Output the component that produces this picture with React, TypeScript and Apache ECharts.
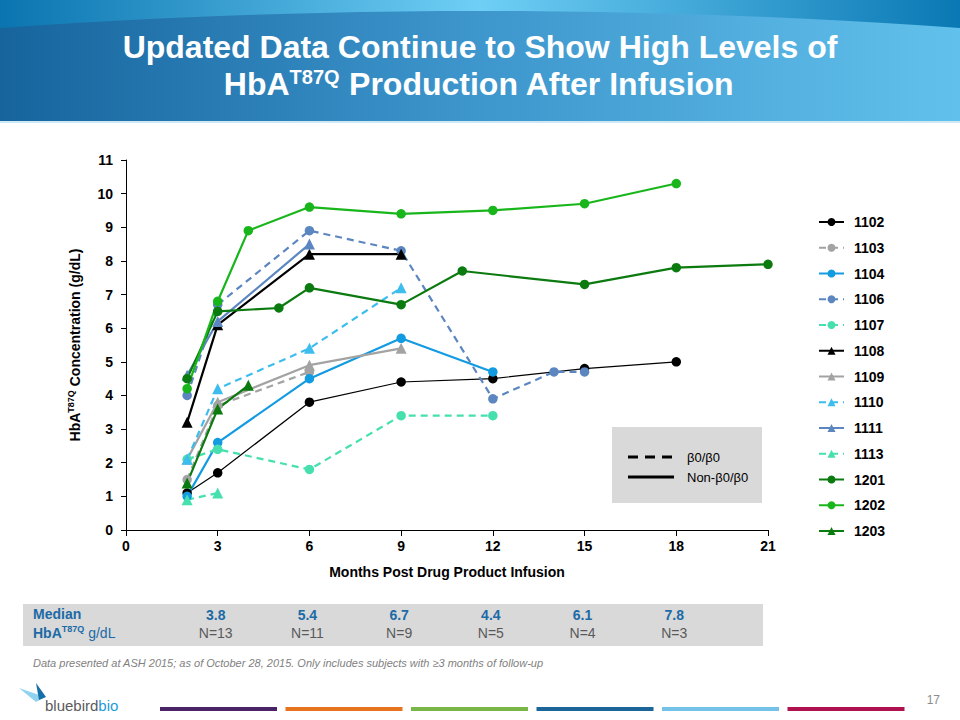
import React, { useEffect, useRef } from "react";
import * as echarts from "echarts";

// ---------- data ----------
const patientIds = ["1102", "1103", "1104", "1106", "1107", "1108", "1109", "1110", "1111", "1113", "1201", "1202", "1203"];

const p1102 = [[2, 1.1], [3, 1.7], [6, 3.8], [9, 4.4], [12, 4.5], [15, 4.8], [18, 5.0]];
const p1103 = [[2, 1.5], [3, 3.7], [6, 4.7]];
const p1104 = [[2, 1.0], [3, 2.6], [6, 4.5], [9, 5.7], [12, 4.7]];
const p1106 = [[2, 4.0], [3, 6.7], [6, 8.9], [9, 8.3], [12, 3.9], [14, 4.7], [15, 4.7]];
const p1107 = [[2, 2.1], [3, 2.4], [6, 1.8], [9, 3.4], [12, 3.4]];
const p1108 = [[2, 3.2], [3, 6.1], [6, 8.2], [9, 8.2]];
const p1109 = [[2, 2.1], [3, 3.8], [6, 4.9], [9, 5.4]];
const p1110 = [[2, 2.1], [3, 4.2], [6, 5.4], [9, 7.2]];
const p1111 = [[2, 4.6], [3, 6.2], [6, 8.5]];
const p1113 = [[2, 0.9], [3, 1.1]];
const p1201 = [[2, 4.5], [3, 6.5], [5, 6.6], [6, 7.2], [9, 6.7], [11, 7.7], [15, 7.3], [18, 7.8], [21, 7.9]];
const p1202 = [[2, 4.2], [3, 6.8], [4, 8.9], [6, 9.6], [9, 9.4], [12, 9.5], [15, 9.7], [18, 10.3]];
const p1203 = [[2, 1.4], [3, 3.6], [4, 4.3]];

const patientData = [p1102, p1103, p1104, p1106, p1107, p1108, p1109, p1110, p1111, p1113, p1201, p1202, p1203];

const medianMonths = [3, 6, 9, 12, 15, 18];
const medianValues = ["3.8", "5.4", "6.7", "4.4", "6.1", "7.8"];
const medianN = ["N=13", "N=11", "N=9", "N=5", "N=4", "N=3"];

// ---------- styles ----------
const BLACK = "#000000";
const GRAY = "#a3a3a3";
const BLUE = "#129be0";
const STEEL = "#5b86c0";
const AQUA = "#45e0ae";
const LBLUE = "#3cbdee";
const DGREEN = "#0b7a0f";
const GREEN = "#19b61b";

const seriesStyle = [
  { color: BLACK, symbol: "circle", dashed: false, width: 1.2 },
  { color: GRAY, symbol: "circle", dashed: true, width: 2.2 },
  { color: BLUE, symbol: "circle", dashed: false, width: 2.2 },
  { color: STEEL, symbol: "circle", dashed: true, width: 2.2 },
  { color: AQUA, symbol: "circle", dashed: true, width: 2.2 },
  { color: BLACK, symbol: "triangle", dashed: false, width: 2.2 },
  { color: GRAY, symbol: "triangle", dashed: false, width: 2.2 },
  { color: LBLUE, symbol: "triangle", dashed: true, width: 2.2 },
  { color: STEEL, symbol: "triangle", dashed: false, width: 2.2 },
  { color: AQUA, symbol: "triangle", dashed: true, width: 2.2 },
  { color: DGREEN, symbol: "circle", dashed: false, width: 2.2 },
  { color: GREEN, symbol: "circle", dashed: false, width: 2.2 },
  { color: DGREEN, symbol: "triangle", dashed: false, width: 2.2 },
];

const GL = 126;
const GR = 768;
const GT = 160;
const GB = 530;
const XMAX = 21;
const FONT = "Liberation Sans, Arial, sans-serif";
const TBLUE = "#1c6aa6";

function monthToPx(m: number) {
  return GL + (m * (GR - GL)) / XMAX;
}

function buildOption() {
  const series = patientIds.map((id, i) => {
    const st = seriesStyle[i];
    return {
      name: id,
      type: "line",
      data: patientData[i],
      symbol: st.symbol,
      symbolSize: st.symbol === "circle" ? 9.5 : 11,
      showSymbol: true,
      itemStyle: { color: st.color },
      lineStyle: { color: st.color, width: st.width, type: st.dashed ? [7, 5] : "solid" },
      emphasis: { disabled: true },
      z: 3,
    };
  });

  // header curve points (decoration)
  const curve: number[][] = [];
  for (let x = 0; x <= 960; x += 40) {
    const t = (x - 480) / 480;
    curve.push([x, 11 + 17 * t * t]);
  }
  const headerPoly = [...curve, [960, 121], [0, 121]];

  const graphics: any[] = [
    {
      type: "rect",
      shape: { x: 0, y: 0, width: 960, height: 121 },
      style: {
        fill: new echarts.graphic.LinearGradient(0, 0, 1, 0, [
          { offset: 0, color: "#0a74b0" },
          { offset: 0.5, color: "#6fcff5" },
          { offset: 1, color: "#0a78b4" },
        ]),
      },
      silent: true,
    },
    {
      type: "polygon",
      shape: { points: headerPoly },
      style: {
        fill: new echarts.graphic.LinearGradient(0, 0, 1, 0, [
          { offset: 0, color: "#17649d" },
          { offset: 0.45, color: "#3a92c9" },
          { offset: 1, color: "#62c1ec" },
        ]),
      },
      silent: true,
    },
    {
      type: "rect",
      shape: { x: 0, y: 121, width: 960, height: 2 },
      style: { fill: "#cde9f6" },
      silent: true,
    },
    {
      type: "text",
      x: 480,
      y: 47,
      style: {
        text: "Updated Data Continue to Show High Levels of",
        fill: "#ffffff",
        font: `bold 32px ${FONT}`,
        align: "center",
        verticalAlign: "middle",
      },
      silent: true,
    },
    {
      type: "text",
      x: 479,
      y: 84,
      style: {
        text: "HbA{sup|T87Q} Production After Infusion",
        fill: "#ffffff",
        font: `bold 32px ${FONT}`,
        align: "center",
        verticalAlign: "middle",
        rich: {
          sup: { fill: "#ffffff", fontSize: 20, fontWeight: "bold", fontFamily: FONT, padding: [0, 0, 14, 0] },
        },
      },
      silent: true,
    },
    // beta legend box
    {
      type: "rect",
      shape: { x: 612, y: 427, width: 150, height: 76 },
      style: { fill: "#d9d9d9" },
      silent: true,
    },
    {
      type: "line",
      shape: { x1: 628, y1: 457, x2: 674, y2: 457 },
      style: { stroke: "#000", lineWidth: 3, lineDash: [10, 7] },
      silent: true,
    },
    {
      type: "line",
      shape: { x1: 628, y1: 477, x2: 674, y2: 477 },
      style: { stroke: "#000", lineWidth: 3 },
      silent: true,
    },
    {
      type: "text",
      x: 687,
      y: 457,
      style: { text: "β0/β0", fill: "#000", font: `13px ${FONT}`, verticalAlign: "middle" },
      silent: true,
    },
    {
      type: "text",
      x: 687,
      y: 477,
      style: { text: "Non-β0/β0", fill: "#000", font: `13px ${FONT}`, verticalAlign: "middle" },
      silent: true,
    },
    // median table
    {
      type: "rect",
      shape: { x: 23, y: 604, width: 740, height: 42 },
      style: { fill: "#d9d9d9" },
      silent: true,
    },
    {
      type: "text",
      x: 33,
      y: 614,
      style: { text: "Median", fill: TBLUE, font: `bold 14px ${FONT}`, verticalAlign: "middle" },
      silent: true,
    },
    {
      type: "text",
      x: 33,
      y: 633,
      style: {
        text: "HbA{sup|T87Q}{reg| g/dL}",
        fill: TBLUE,
        font: `bold 14px ${FONT}`,
        verticalAlign: "middle",
        rich: {
          sup: { fill: TBLUE, fontSize: 9, fontWeight: "bold", fontFamily: FONT, padding: [0, 0, 8, 0] },
          reg: { fill: TBLUE, fontSize: 14, fontWeight: "normal", fontFamily: FONT },
        },
      },
      silent: true,
    },
    // footnote
    {
      type: "text",
      x: 33,
      y: 663,
      style: {
        text: "Data presented at ASH 2015; as of October 28, 2015. Only includes subjects with ≥3 months of follow-up",
        fill: "#7f7f7f",
        font: `italic 11px ${FONT}`,
        verticalAlign: "middle",
      },
      silent: true,
    },
    // logo
    {
      type: "polygon",
      shape: { points: [[19, 688], [45, 697], [36, 702]] },
      style: { fill: "#8fd3f0" },
      silent: true,
    },
    {
      type: "polygon",
      shape: { points: [[36, 683], [46, 697], [39, 700]] },
      style: { fill: "#1670a8" },
      silent: true,
    },
    {
      type: "text",
      x: 45,
      y: 705,
      style: {
        text: "bluebird{b|bio}",
        fill: "#5b5b5b",
        font: `15px ${FONT}`,
        verticalAlign: "middle",
        rich: { b: { fill: "#1c9bd7", fontSize: 15, fontFamily: FONT } },
      },
      silent: true,
    },
    {
      type: "text",
      x: 940,
      y: 700,
      style: { text: "17", fill: "#8c8c8c", font: `12px ${FONT}`, align: "right", verticalAlign: "middle" },
      silent: true,
    },
  ];

  const barColors = ["#4b2468", "#e8731e", "#7ab547", "#1b6598", "#74c2e8", "#b0124f"];
  barColors.forEach((c, i) => {
    graphics.push({
      type: "rect",
      shape: { x: 160 + i * 125.5, y: 707, width: 117, height: 4 },
      style: { fill: c },
      silent: true,
    });
  });

  medianMonths.forEach((m, i) => {
    const x = monthToPx(m) - 2;
    graphics.push({
      type: "text",
      x,
      y: 615,
      style: { text: medianValues[i], fill: TBLUE, font: `bold 14px ${FONT}`, align: "center", verticalAlign: "middle" },
      silent: true,
    });
    graphics.push({
      type: "text",
      x,
      y: 633,
      style: { text: medianN[i], fill: "#595959", font: `14px ${FONT}`, align: "center", verticalAlign: "middle" },
      silent: true,
    });
  });

  return {
    animation: false,
    backgroundColor: "#ffffff",
    grid: { left: GL, right: 960 - GR, top: GT, bottom: 720 - GB, containLabel: false },
    xAxis: {
      type: "value",
      min: 0,
      max: XMAX,
      interval: 3,
      name: "Months Post Drug Product Infusion",
      nameLocation: "middle",
      nameGap: 35,
      nameTextStyle: { color: "#000", fontSize: 14, fontWeight: "bold", fontFamily: FONT },
      axisLine: { show: true, onZero: false, lineStyle: { color: "#000", width: 1 } },
      axisTick: { show: true, inside: false, length: 6, lineStyle: { color: "#000" } },
      axisLabel: { color: "#000", fontSize: 14, fontWeight: "bold", fontFamily: FONT, margin: 9 },
      splitLine: { show: false },
    },
    yAxis: {
      type: "value",
      min: 0,
      max: 11,
      interval: 1,
      name: "HbA{sup|T87Q} Concentration (g/dL)",
      nameLocation: "middle",
      nameGap: 43,
      nameTextStyle: {
        color: "#000",
        fontSize: 14,
        fontWeight: "bold",
        fontFamily: FONT,
        rich: {
          sup: { color: "#000", fontSize: 9, fontWeight: "bold", fontFamily: FONT, padding: [0, 0, 8, 0] },
        },
      },
      axisLine: { show: true, lineStyle: { color: "#000", width: 1 } },
      axisTick: { show: true, inside: false, length: 5, lineStyle: { color: "#000" } },
      axisLabel: { color: "#000", fontSize: 14, fontWeight: "bold", fontFamily: FONT, margin: 13 },
      splitLine: { show: false },
    },
    legend: {
      show: true,
      orient: "vertical",
      left: 813,
      top: 210,
      itemWidth: 25,
      itemHeight: 10,
      itemGap: 11.75,
      selectedMode: false,
      data: patientIds,
      textStyle: { color: "#000", fontSize: 14, fontWeight: "bold", fontFamily: FONT, padding: [0, 0, 0, 5] },
    },
    series,
    graphic: graphics,
  };
}

export default function App() {
  const ref = useRef<HTMLDivElement>(null);
  useEffect(() => {
    if (!ref.current) return;
    const chart = echarts.init(ref.current, undefined, { renderer: "svg" });
    chart.setOption(buildOption() as any);
    return () => {
      chart.dispose();
    };
  }, []);
  return (
    <div
      ref={ref}
      style={{ position: "fixed", left: 0, top: 0, width: 960, height: 720, background: "#fff" }}
    />
  );
}
